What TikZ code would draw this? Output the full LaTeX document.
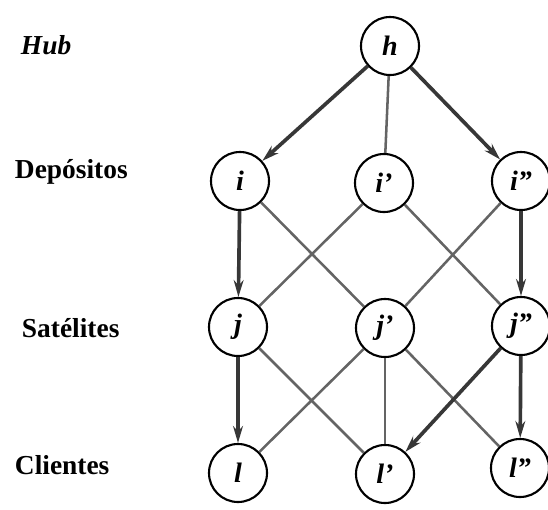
\documentclass[tikz,border=0pt]{standalone}
\usepackage{fontspec}
\setmainfont{Liberation Serif}
\usetikzlibrary{arrows.meta}
\definecolor{cEdge}{RGB}{55,55,55}
\definecolor{cLink}{RGB}{100,100,100}
\tikzset{
  levelnode/.style={circle,draw=black,line width=1.5pt,fill=white,
                    minimum size=1.45cm,inner sep=0pt,
                    font=\fontsize{20}{22}\selectfont\bfseries\itshape},
  levellabel/.style={anchor=west,
                     font=\fontsize{19.5}{22}\selectfont\bfseries},
  flowarr/.style={-{Stealth[length=12pt,width=7pt]},line width=2.6pt,color=cEdge},
  linkline/.style={line width=1.8pt,color=cLink}
}
\begin{document}
\begin{tikzpicture}[x=0.025cm,y=-0.025cm]
  \useasboundingbox (0,0) rectangle (548,509);

  % level labels
  \node[levellabel] (lhub) at (16,45) {\textit{Hub}};
  \node[levellabel] (ldep) at (10,172) {Depósitos};
  \node[levellabel] (lsat) at (17,328) {Satélites};
  \node[levellabel] (lcli) at (10,465) {Clientes};

  % network
  \node[levelnode] (h)  at (390,46)  {h};
  \node[levelnode] (i1) at (240,181) {i};
  \node[levelnode] (i2) at (384,183) {i’};
  \node[levelnode] (i3) at (521,181) {i”};
  \node[levelnode] (j1) at (238,327) {j};
  \node[levelnode] (j2) at (385,328) {j’};
  \node[levelnode] (j3) at (521,326) {j”};
  \node[levelnode] (l1) at (238,473) {l};
  \node[levelnode] (l2) at (385,474) {l’};
  \node[levelnode] (l3) at (520,468) {l”};

  \foreach \f/\t in {h/i2,i1/j2,i2/j1,i2/j3,i3/j2,j1/l2,j2/l1,j2/l2,j2/l3}
    \draw[linkline] (\f) -- (\t);
  \foreach \f/\t in {h/i1,h/i3,i1/j1,i3/j3,j1/l1,j3/l2,j3/l3}
    \draw[flowarr] (\f) -- (\t);
\end{tikzpicture}
\end{document}
